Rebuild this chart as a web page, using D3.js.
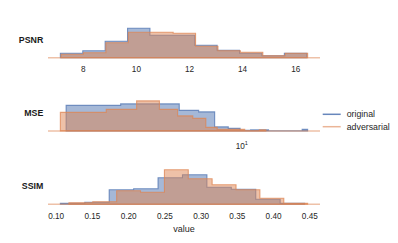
<!DOCTYPE html>
<html lang="en">
<head>
<meta charset="utf-8">
<title>histograms</title>
<script src="https://d3js.org/d3.v7.min.js"></script>
<style>
  body { margin: 0; background: #fff; }
  text { font-family: "Liberation Sans", Arial, sans-serif; fill: #262626; }
</style>
</head>
<body>
<script>
// configuration
var outerWidth = 398, outerHeight = 243;
var plotLeft = 48, plotRight = 320;
var panelHeight = 36;
var baselines = [57.7, 130.9, 204.3];
var blue = "#4c72b0", orange = "#dd8452";

var seriesNames = ["original", "adversarial"];
var metricNames = ["PSNR", "MSE", "SSIM"];

// PSNR bins (edges) and counts
var psnrOrigEdges = [7.155, 7.999, 8.842, 9.686, 10.529, 11.373, 12.217, 13.060, 13.904, 14.747, 15.591, 16.435];
var psnrOrigCounts = [9, 14, 33, 59, 45, 45, 25, 15, 9, 4, 9];
var psnrAdvEdges = [7.181, 8.025, 8.870, 9.714, 10.558, 11.403, 12.247, 13.091, 13.935, 14.780, 15.624, 16.468];
var psnrAdvCounts = [7, 10, 30, 51, 51, 49, 23, 14, 11, 4, 9];
var psnrTicks = [8, 10, 12, 14, 16];

// MSE bins (log x axis)
var mseOrigEdges = [1.47, 2.67, 3.87, 5.07, 6.27, 7.47, 8.67, 9.87, 11.07, 12.27, 13.47, 14.67, 15.87, 17.07, 18.27, 19.47, 20.67];
var mseOrigCounts = [51, 54, 54, 41, 38, 8, 5, 1, 2, 2, 0, 0, 0, 0, 0, 3];
var mseAdvEdges = [1.38, 2.28, 3.18, 4.08, 4.98, 5.88, 6.78, 7.68, 8.58, 9.48, 10.38, 11.28, 12.18, 13.08];
var mseAdvCounts = [37, 43, 60, 43, 30, 25, 7, 3, 3, 3, 0, 0, 2];
var mseTicks = [10];

// SSIM bins
var ssimOrigEdges = [0.1065, 0.1402, 0.1739, 0.2076, 0.2413, 0.2750, 0.3087, 0.3424, 0.3761, 0.4098, 0.4435];
var ssimOrigCounts = [2, 4, 29, 31, 53, 59, 34, 30, 10, 2];
var ssimAdvEdges = [0.1183, 0.1512, 0.1842, 0.2171, 0.2501, 0.2830, 0.3159, 0.3489, 0.3818, 0.4148, 0.4477];
var ssimAdvCounts = [3, 5, 27, 24, 69, 51, 39, 29, 12, 2];
var ssimTicks = [0.10, 0.15, 0.20, 0.25, 0.30, 0.35, 0.40, 0.45];

var yMax = 72;

var panels = [
  { name: metricNames[0], log: false, ticks: psnrTicks, fmt: d3.format("d"),
    hists: [[psnrOrigEdges, psnrOrigCounts, blue], [psnrAdvEdges, psnrAdvCounts, orange]] },
  { name: metricNames[1], log: true, ticks: mseTicks, fmt: null,
    hists: [[mseOrigEdges, mseOrigCounts, blue], [mseAdvEdges, mseAdvCounts, orange]] },
  { name: metricNames[2], log: false, ticks: ssimTicks, fmt: d3.format(".2f"),
    hists: [[ssimOrigEdges, ssimOrigCounts, blue], [ssimAdvEdges, ssimAdvCounts, orange]] }
];

var svg = d3.select("body").append("svg")
  .attr("width", outerWidth)
  .attr("height", outerHeight);

panels.forEach(function (p, i) {
  var g = svg.append("g")
    .attr("transform", "translate(0," + (baselines[i] - panelHeight) + ")");

  // x domain = data extent plus 5% margin on each side
  var allEdges = p.hists[0][0].concat(p.hists[1][0]);
  var lo = d3.min(allEdges), hi = d3.max(allEdges);
  var x;
  if (p.log) {
    var l0 = Math.log10(lo), l1 = Math.log10(hi), m = (l1 - l0) * 0.05;
    x = d3.scaleLog().domain([Math.pow(10, l0 - m), Math.pow(10, l1 + m)]);
  } else {
    var mm = (hi - lo) * 0.05;
    x = d3.scaleLinear().domain([lo - mm, hi + mm]);
  }
  x.range([plotLeft, plotRight]);
  var y = d3.scaleLinear().domain([0, yMax]).range([panelHeight, 0]);

  var line = d3.line()
    .x(function (d) { return x(d[0]); })
    .y(function (d) { return y(d[1]); });

  p.hists.forEach(function (h) {
    var edges = h[0], counts = h[1];
    var pts = [[edges[0], 0]];
    counts.forEach(function (c, k) {
      pts.push([edges[k], c]);
      pts.push([edges[k + 1], c]);
    });
    pts.push([edges[edges.length - 1], 0]);
    g.append("path")
      .attr("d", line(pts) + "Z")
      .attr("fill", h[2])
      .attr("fill-opacity", 0.5)
      .attr("stroke", h[2])
      .attr("stroke-opacity", 0.75)
      .attr("stroke-width", 1.1);
  });

  // reference line at zero
  g.append("line")
    .attr("x1", x.range()[0]).attr("x2", x.range()[1])
    .attr("y1", y(0)).attr("y2", y(0))
    .attr("stroke", orange)
    .attr("stroke-opacity", 0.5)
    .attr("stroke-width", 1.5);

  // row label
  g.append("text")
    .attr("x", plotLeft - 4.7)
    .attr("y", y(0) - 18.2)
    .attr("dy", "0.35em")
    .attr("text-anchor", "end")
    .style("font-size", "8.8px")
    .style("font-weight", "bold")
    .style("fill", "#1a1a1a")
    .text(p.name);

  // x axis (labels only)
  var axis = d3.axisBottom(x).tickValues(p.ticks).tickSize(0).tickPadding(p.log ? 12.4 : 8.6);
  if (p.fmt) axis.tickFormat(p.fmt); else axis.tickFormat(function () { return "10"; });
  var ag = g.append("g")
    .attr("transform", "translate(0," + y(0) + ")")
    .call(axis);
  ag.select(".domain").remove();
  ag.selectAll("text")
    .style("font-family", "'Liberation Sans', Arial, sans-serif")
    .style("font-size", "8.2px")
    .style("fill", "#262626");
  if (p.log) {
    ag.selectAll("text").append("tspan")
      .attr("dy", "-4.6")
      .style("font-size", "5.6px")
      .text("1");
  }
});

// x label
svg.append("text")
  .attr("x", (plotLeft + plotRight) / 2)
  .attr("y", 231.6)
  .attr("text-anchor", "middle")
  .style("font-size", "9px")
  .text("value");

// legend
var legend = svg.append("g").attr("transform", "translate(322.7,114.3)");
[blue, orange].forEach(function (c, k) {
  legend.append("line")
    .attr("x1", 0).attr("x2", 18)
    .attr("y1", k * 12.4).attr("y2", k * 12.4)
    .attr("stroke", c)
    .attr("stroke-opacity", k === 0 ? 0.85 : 0.6)
    .attr("stroke-width", 1.5);
  legend.append("text")
    .attr("x", 24)
    .attr("y", k * 12.4)
    .attr("dy", "0.35em")
    .style("font-size", "8.8px")
    .text(seriesNames[k]);
});
</script>
</body>
</html>
